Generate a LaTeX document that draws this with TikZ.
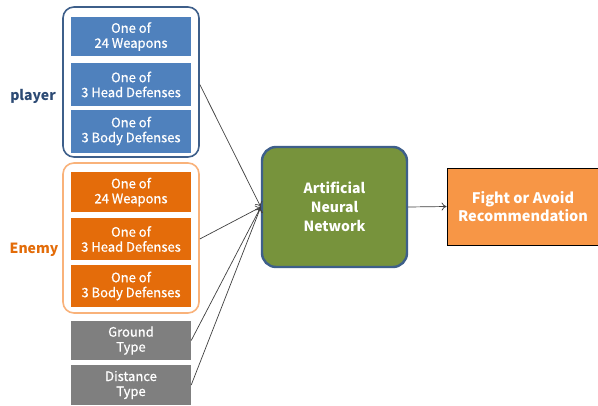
\documentclass[tikz,border=0pt]{standalone}
\usepackage{fontspec}
\setmainfont{Noto Sans CJK KR}
\newfontfamily\medfont[FakeBold=0.6]{Noto Sans CJK KR}
\usetikzlibrary{arrows.meta}
\definecolor{cblue}{HTML}{4F81BD}
\definecolor{cblueline}{HTML}{3E5F8A}
\definecolor{corange}{HTML}{E46C0A}
\definecolor{corangeline}{HTML}{F9B27A}
\definecolor{cgray}{HTML}{7F7F7F}
\definecolor{cgreen}{HTML}{77933C}
\definecolor{clight}{HTML}{F79646}
\definecolor{cnavy}{HTML}{2C4A74}
\definecolor{cenemy}{HTML}{E36C09}
\tikzset{
  inbox/.style={rectangle, minimum width=120pt, text=white, align=center, inner sep=0pt,
    font=\medfont\fontsize{13}{15}\selectfont},
  grp/.style={rectangle, rounded corners=11pt, line width=1.6pt, fill=white, minimum width=136pt},
  conn/.style={draw=black!75, line width=0.7pt, -{To[length=5pt,width=8pt]}},
}
\begin{document}
\begin{tikzpicture}[x=1pt,y=-1pt]
\useasboundingbox[fill=white] (0,0) rectangle (598,405);
% containers
\node[grp, draw=cblueline, minimum height=150pt] (pc) at (131,82) {};
\node[grp, draw=corangeline, minimum height=150pt] (ec) at (131,238) {};
% player boxes
\node[inbox, fill=cblue, minimum height=39pt] (p1) at (131,36.5) {One of\\24 Weapons};
\node[inbox, fill=cblue, minimum height=43pt] (p2) at (131,84.5) {One of\\3 Head Defenses};
\node[inbox, fill=cblue, minimum height=43pt] (p3) at (131,131) {One of\\3 Body Defenses};
% enemy boxes
\node[inbox, fill=corange, minimum height=40pt] (e1) at (131,192) {One of\\24 Weapons};
\node[inbox, fill=corange, minimum height=42pt] (e2) at (131,239) {One of\\3 Head Defenses};
\node[inbox, fill=corange, minimum height=42pt] (e3) at (131,286) {One of\\3 Body Defenses};
% gray boxes
\node[inbox, fill=cgray, minimum height=39pt] (g) at (131,340.5) {Ground\\Type};
\node[inbox, fill=cgray, minimum height=40pt] (d) at (131,385) {Distance\\Type};
% labels
\node[text=cnavy, font=\fontsize{14}{16}\selectfont\bfseries] (pl) at (33,96) {player};
\node[text=cenemy, font=\fontsize{14}{16}\selectfont\bfseries] (el) at (34,250) {Enemy};
% ANN
\node[rectangle, rounded corners=14pt, fill=cgreen, draw=cblueline, line width=2.4pt,
  minimum width=145pt, minimum height=120pt, text=white, align=center,
  font=\fontsize{14}{19}\selectfont\bfseries] (ann) at (334.5,207) {Artificial\\Neural\\Network};
% output
\node[rectangle, fill=clight, draw=black, line width=0.8pt, minimum width=152pt, minimum height=77pt,
  text=white, align=center, font=\fontsize{14.5}{18}\selectfont\bfseries] (out) at (523,206.5) {Fight or Avoid\\Recommendation};
% connectors
\coordinate (ps) at (pc.east |- p2.east);
\coordinate (es) at (ec.east |- e2.east);
\draw[conn] (ps) -- (ann.west);
\draw[conn] (es) -- (ann.west);
\draw[conn] (g.east) -- (ann.west);
\draw[conn] (d.east) -- (ann.west);
\draw[conn] (ann.east) -- (out.west);
\end{tikzpicture}
\end{document}
